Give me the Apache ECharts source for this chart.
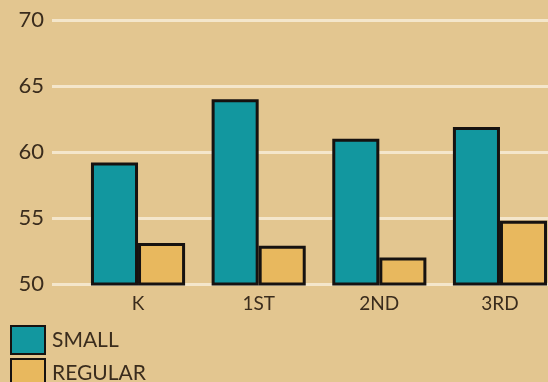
<!DOCTYPE html>
<html>
<head>
<meta charset="utf-8">
<style>
  html, body { margin: 0; padding: 0; background: #e3c690; }
  #chart { width: 548px; height: 382px; }
</style>
<script src="https://cdn.jsdelivr.net/npm/echarts@6/dist/echarts.min.js"></script>
</head>
<body>
<div id="chart"></div>
<script>
// Grade levels and average scores by class size
const grades = ['K', '1ST', '2ND', '3RD'];
const smallClass = [59.2, 64.0, 61.0, 61.9];
const regularClass = [53.1, 52.9, 52.0, 54.8];
const seriesNames = ['SMALL', 'REGULAR'];
const yMin = 50, yMax = 70, yStep = 5;

const ink = '#3a2c1d';
const font = 'Lato, "Open Sans", sans-serif';
const teal = '#12979f';
const gold = '#e8b85e';

const chart = echarts.init(document.getElementById('chart'), null, { renderer: 'canvas' });

// one legend block per series, stacked down the lower-left corner
const legendBlock = (name, top) => ({
  orient: 'vertical',
  left: 10,
  top: top,
  itemWidth: 34,
  itemHeight: 28,
  icon: 'rect',
  padding: 0,
  textStyle: { color: ink, fontFamily: font, fontSize: 21, padding: [0, 0, 0, 2] },
  data: [name]
});

chart.setOption({
  backgroundColor: '#e3c690',
  animation: false,
  legend: [legendBlock(seriesNames[0], 325), legendBlock(seriesNames[1], 358)],
  grid: [
    // plot area for the bars
    { left: 77.7, right: -12.3, top: 20, bottom: 98, outerBoundsMode: 'none' },
    // full-width grid carrying the value scale and horizontal rules
    { left: 52, right: 0, top: 20, bottom: 98, outerBoundsMode: 'none' }
  ],
  xAxis: [
    {
      type: 'category',
      gridIndex: 0,
      data: grades,
      axisLine: { show: false },
      axisTick: { show: false },
      axisLabel: { color: ink, fontFamily: font, fontSize: 19, margin: 10 }
    },
    {
      type: 'value',
      gridIndex: 1,
      show: false
    }
  ],
  yAxis: [
    {
      type: 'value',
      gridIndex: 0,
      min: yMin, max: yMax, interval: yStep,
      show: false,
      splitLine: { show: false }
    },
    {
      type: 'value',
      gridIndex: 1,
      min: yMin, max: yMax, interval: yStep,
      axisLine: { show: false },
      axisTick: { show: false },
      axisLabel: { color: ink, fontFamily: font, fontSize: 22, margin: 8 },
      splitLine: { lineStyle: { color: '#f4e6cb', width: 3 } }
    }
  ],
  series: [
    {
      name: seriesNames[0],
      type: 'bar',
      xAxisIndex: 0,
      yAxisIndex: 0,
      data: smallClass,
      barGap: '0%',
      barCategoryGap: '22%',
      itemStyle: { color: teal, borderColor: '#161210', borderWidth: 3 },
      z: 3
    },
    {
      name: seriesNames[1],
      type: 'bar',
      xAxisIndex: 0,
      yAxisIndex: 0,
      data: regularClass,
      barGap: '0%',
      barCategoryGap: '22%',
      itemStyle: { color: gold, borderColor: '#161210', borderWidth: 3 },
      z: 3
    }
  ]
});
</script>
</body>
</html>
